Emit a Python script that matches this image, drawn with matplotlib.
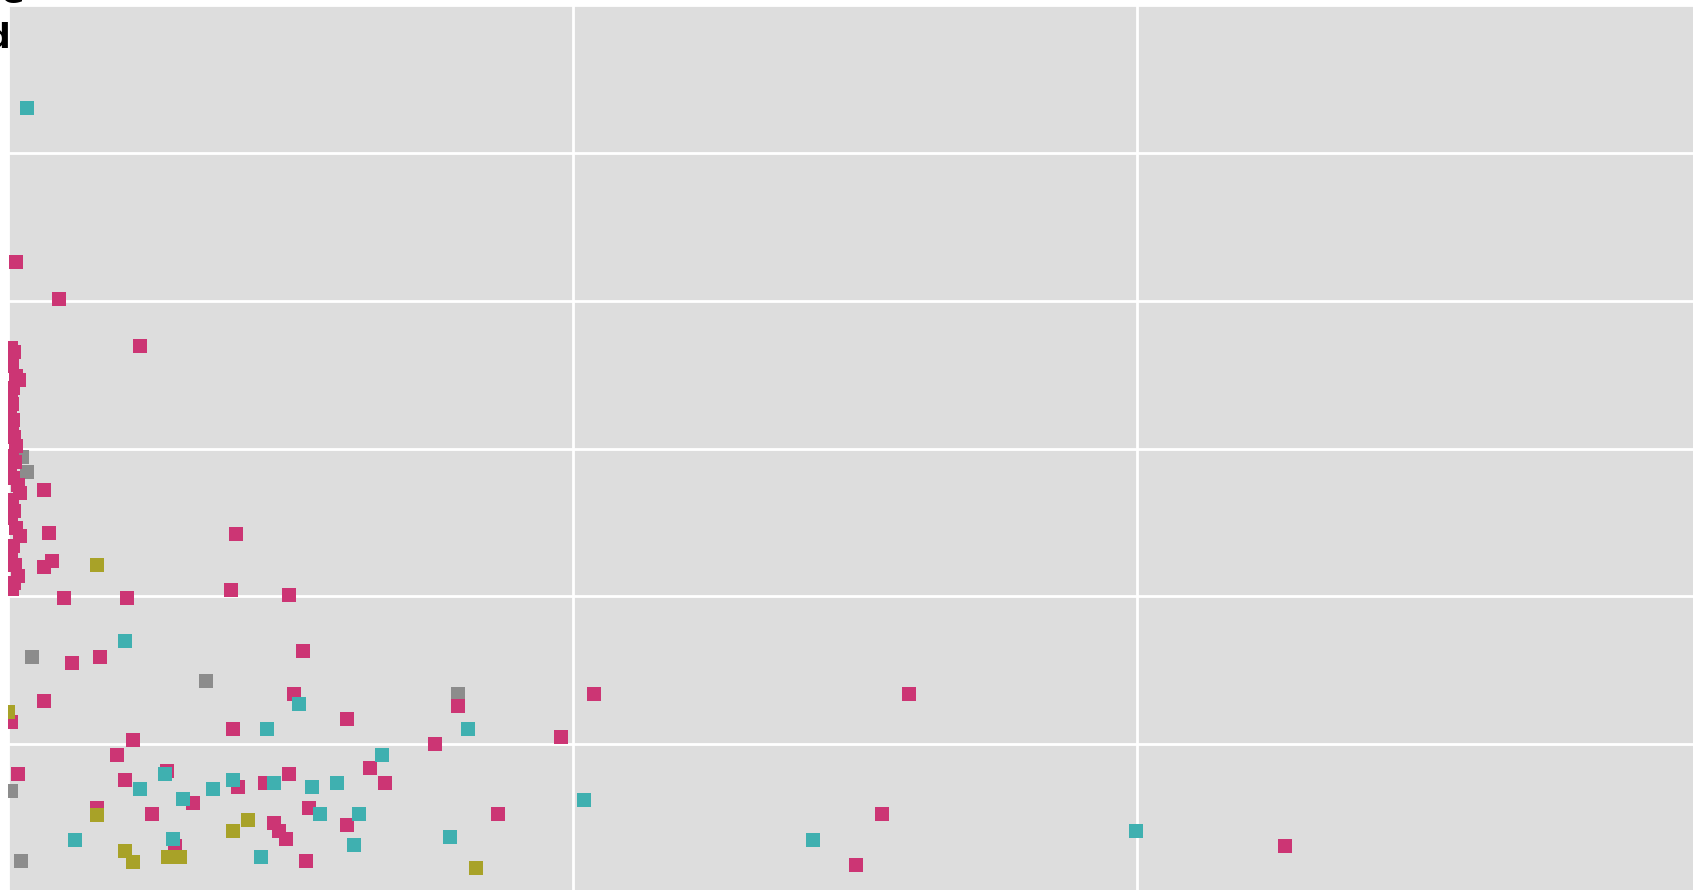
import numpy as np
import matplotlib.pyplot as plt

# values (x, y in gridline units)
pink_x = [0.014, 0.090, 0.234,
          0.005, 0.011, 0.004, 0.007, 0.014, 0.019, 0.009, 0.005, 0.007, 0.004,
          0.009, 0.007, 0.011, 0.014, 0.007, 0.012, 0.004, 0.009, 0.018, 0.021,
          0.007, 0.011, 0.005, 0.014, 0.021, 0.009, 0.005, 0.012, 0.018, 0.011, 0.007,
          0.064, 0.073, 0.404, 0.078, 0.064, 0.099, 0.211, 0.395, 0.498,
          0.523, 0.113, 0.163, 0.507, 0.797, 1.038, 1.596, 0.064, 0.005,
          0.399, 0.601, 0.980, 0.756, 0.221, 0.193, 0.641, 0.668, 0.018,
          0.207, 0.282, 0.328, 0.407, 0.455, 0.498, 0.533, 0.601, 0.868,
          1.548, 0.158, 0.255, 0.471, 0.480, 0.492, 0.528, 0.296, 1.502, 2.262]
pink_y = [4.26, 4.01, 3.69,
          3.68, 3.65, 3.61, 3.56, 3.49, 3.46, 3.41, 3.36, 3.30, 3.26,
          3.19, 3.14, 3.08, 3.02, 2.95, 2.91, 2.86, 2.80, 2.75, 2.70,
          2.65, 2.58, 2.53, 2.46, 2.41, 2.34, 2.28, 2.21, 2.14, 2.09, 2.05,
          2.72, 2.43, 2.42, 2.24, 2.20, 1.99, 1.99, 2.04, 2.01,
          1.63, 1.55, 1.59, 1.34, 1.26, 1.34, 1.34, 1.29, 1.15,
          1.10, 1.17, 1.05, 1.00, 1.03, 0.93, 0.84, 0.74, 0.80,
          0.76, 0.82, 0.60, 0.71, 0.74, 0.80, 0.57, 0.45, 0.53,
          0.53, 0.57, 0.53, 0.47, 0.41, 0.36, 0.21, 0.31, 0.18, 0.31]

teal_x = [0.034, 0.207, 0.516, 0.459, 0.815, 0.663, 0.278, 0.234, 0.310, 0.363,
          0.399, 0.471, 0.539, 0.583, 0.553, 0.622, 0.613, 0.783, 1.020, 0.448,
          0.119, 0.292, 1.426, 1.998]
teal_y = [5.30, 1.70, 1.27, 1.10, 1.10, 0.93, 0.80, 0.70, 0.63, 0.70,
          0.76, 0.74, 0.71, 0.74, 0.53, 0.53, 0.32, 0.37, 0.62, 0.24,
          0.35, 0.36, 0.35, 0.41]

gray_x = [0.034, 0.025, 0.043, 0.351, 0.797, 0.005, 0.023]
gray_y = [2.84, 2.94, 1.59, 1.43, 1.34, 0.68, 0.21]

olive_x = [0.158, 0.000, 0.829, 0.158, 0.425, 0.399, 0.207, 0.221, 0.283, 0.305]
olive_y = [2.21, 1.22, 0.16, 0.52, 0.49, 0.41, 0.28, 0.20, 0.24, 0.24]

W, H = 1693, 890
fig = plt.figure(figsize=(W / 100, H / 100), dpi=100)
ax = fig.add_axes([8 / W, -2 / H, 1 - 8 / W, 887 / H])
ax.set_facecolor('#dddddd')

ms = 92
ax.scatter(gray_x, gray_y, s=ms, marker='s', color='#8c8c8c', linewidths=0, zorder=3)
ax.scatter(pink_x, pink_y, s=ms, marker='s', color='#cc3574', linewidths=0, zorder=3)
ax.scatter(teal_x, teal_y, s=ms, marker='s', color='#3fb0b0', linewidths=0, zorder=3)
ax.scatter(olive_x, olive_y, s=ms, marker='s', color='#a8a228', linewidths=0, zorder=3)

ax.set_xlim(0, (W - 8) / 564.5)
ax.set_ylim(0, 6)
ax.set_xticks([0, 1, 2])
ax.set_yticks(np.arange(0, 7))
ax.grid(True, color='white', linewidth=2)
ax.set_axisbelow(True)
ax.tick_params(length=0, labelbottom=False, labelleft=False)
for s in ax.spines.values():
    s.set_visible(False)

# cut-off title lines at the top-left corner
fig.text(25 / W, 1 - 3 / H, 'Share', ha='right', va='baseline',
         fontsize=24.5, fontweight='bold', color='black')
fig.text(12 / W, 1 - 48 / H, 'Indexed', ha='right', va='baseline',
         fontsize=24.5, fontweight='bold', color='black')

fig.savefig('out.png', dpi=100)
